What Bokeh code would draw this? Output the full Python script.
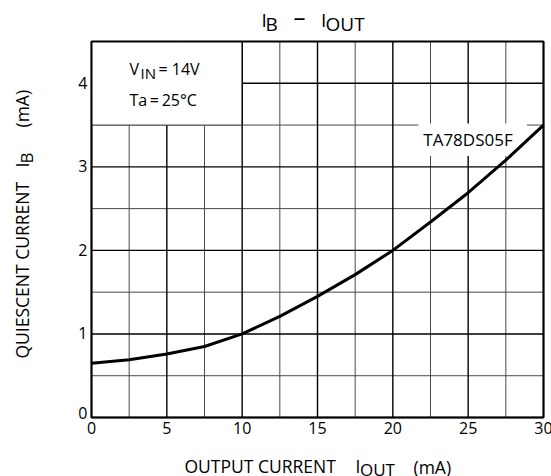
from bokeh.plotting import figure
from bokeh.models import Range1d
from bokeh.core.properties import value
from bokeh.embed import file_html
from bokeh.resources import INLINE
import math

# ---- data ----
i_out = [0, 2.5, 5, 7.5, 10, 12.5, 15, 17.5, 20, 22.5, 25, 27.5, 30]
i_b = [0.65, 0.69, 0.76, 0.85, 1.0, 1.21, 1.45, 1.71, 2.0, 2.34, 2.69, 3.08, 3.5]
x_ticks = [0, 5, 10, 15, 20, 25, 30]
x_minor = [2.5, 7.5, 12.5, 17.5, 22.5, 27.5]
y_ticks = [0, 1, 2, 3, 4]
y_minor = [0.5, 1.5, 2.5, 3.5]
x_tick_labels = ["0", "5", "10", "15", "20", "25", "30"]
y_tick_labels = ["0", "1", "2", "3", "4"]
X_RANGE = (0, 30)
Y_RANGE = (0, 4.5)
INSET_X = (0, 10)
INSET_Y = (3.5, 4.5)
TAG_X = (21.7, 28.9)
TAG_Y = (3.13, 3.52)

# ---- layout (pixels) ----
W, H = 551, 476
PX_L, PX_R, PX_T, PX_B = 91, 543, 41, 417
FONT = "Open Sans"

sx = (X_RANGE[1] - X_RANGE[0]) / (PX_R - PX_L)
sy = (Y_RANGE[1] - Y_RANGE[0]) / (PX_B - PX_T)


def dx(px):
    return X_RANGE[0] + (px - PX_L) * sx


def dy(py):
    return Y_RANGE[0] + (PX_B - py) * sy


p = figure(width=W, height=H,
           x_range=Range1d(dx(0), dx(W)), y_range=Range1d(dy(H), dy(0)),
           output_backend="svg", toolbar_location=None,
           x_axis_location=None, y_axis_location=None,
           min_border=0)
p.min_border_left = p.min_border_right = p.min_border_top = p.min_border_bottom = 0
p.outline_line_color = None
p.background_fill_color = "white"
p.border_fill_color = "white"
p.xgrid.visible = False
p.ygrid.visible = False

MAJOR_C, MAJOR_W = "black", 1.4
MINOR_C, MINOR_W = "#4a4a4a", 1

# grid
p.segment(x0=x_minor, y0=[Y_RANGE[0]] * len(x_minor), x1=x_minor, y1=[Y_RANGE[1]] * len(x_minor),
          line_color=MINOR_C, line_width=MINOR_W)
p.segment(x0=[X_RANGE[0]] * len(y_minor), y0=y_minor, x1=[X_RANGE[1]] * len(y_minor), y1=y_minor,
          line_color=MINOR_C, line_width=MINOR_W)
p.segment(x0=x_ticks, y0=[Y_RANGE[0]] * len(x_ticks), x1=x_ticks, y1=[Y_RANGE[1]] * len(x_ticks),
          line_color=MAJOR_C, line_width=MAJOR_W)
p.segment(x0=[X_RANGE[0]] * len(y_ticks), y0=y_ticks, x1=[X_RANGE[1]] * len(y_ticks), y1=y_ticks,
          line_color=MAJOR_C, line_width=MAJOR_W)

# inset condition box (hides grid)
p.quad(left=[INSET_X[0]], right=[INSET_X[1]], bottom=[INSET_Y[0]], top=[INSET_Y[1]],
       fill_color="white", line_color=None)
p.segment(x0=[INSET_X[1]], y0=[INSET_Y[0]], x1=[INSET_X[1]], y1=[INSET_Y[1]],
          line_color=MAJOR_C, line_width=MAJOR_W)
p.segment(x0=[INSET_X[0]], y0=[INSET_Y[0]], x1=[INSET_X[1]], y1=[INSET_Y[0]],
          line_color=MINOR_C, line_width=MINOR_W)

# tag box
p.quad(left=[TAG_X[0]], right=[TAG_X[1]], bottom=[TAG_Y[0]], top=[TAG_Y[1]],
       fill_color="white", line_color=None)

# curve
p.line(i_out, i_b, line_color="black", line_width=3)

# frame
p.quad(left=[X_RANGE[0]], right=[X_RANGE[1]], bottom=[Y_RANGE[0]], top=[Y_RANGE[1]],
       fill_color=None, line_color="black", line_width=2)

# tick labels
p.text(x=x_ticks, y=[Y_RANGE[0]] * len(x_ticks), text=x_tick_labels,
       text_font=value(FONT), text_font_size="16px", text_color="black",
       text_align="center", text_baseline="middle", y_offset=10.5)
p.text(x=[X_RANGE[0]] * len(y_ticks), y=y_ticks, text=y_tick_labels,
       text_font=value(FONT), text_font_size="16px", text_color="black",
       text_align="right", text_baseline="middle", x_offset=-4,
       y_offset=[-4.5, -0.5, -0.5, -0.5, -0.5])


def lab(px, py, text, size, angle=0.0, align="left"):
    p.text(x=[dx(px)], y=[dy(py)], text=[text], text_font=value(FONT),
           text_font_size=f"{size}px", text_color="black",
           text_align=align, text_baseline="middle", angle=angle)


# title  I_B - I_OUT
lab(261, 19, "I", 19)
lab(265, 23, "B", 19)
lab(299, 15.5, "\u2013", 24, align="center")
lab(320.5, 19, "I", 19)
lab(325, 23, "OUT", 19)

# x axis label
lab(184, 465.5, "OUTPUT CURRENT", 17.5)
lab(355, 465, "I", 17.5)
lab(359.5, 468.5, "OUT", 17)
lab(413, 466, "(mA)", 17.5)

# y axis label (rotated)
R = math.pi / 2
lab(21.5, 358, "QUIESCENT CURRENT", 17.5, angle=R)
lab(21.5, 167, "I", 17.5, angle=R)
lab(25.5, 163, "B", 17, angle=R)
lab(21.5, 127, "(mA)", 17.5, angle=R)

# conditions
lab(129, 68.5, "V", 16)
lab(140, 72.5, "IN", 15)
lab(158, 68.5, "= 14V", 16)
lab(129, 99, "Ta\u2009=\u200925\u00b0C", 16)

# part number
lab(467.5, 138.5, "TA78DS05F", 17, align="center")

open("out.html", "w").write(file_html(p, INLINE))
